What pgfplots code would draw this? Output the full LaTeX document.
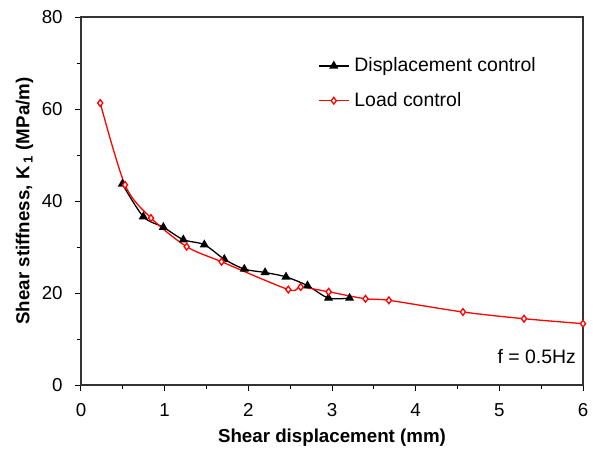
\documentclass[border=0pt]{standalone}
\usepackage{pgfplots}
\pgfplotsset{compat=1.18}
\usepackage{fontspec}
\setmainfont{Liberation Sans}
\begin{document}
\fontsize{18.5}{22}\selectfont
\begin{tikzpicture}
\useasboundingbox (-81bp,-70bp) rectangle (512bp,385bp);
\begin{axis}[
  at={(0,0)}, anchor=south west,
  scale only axis, width=502bp, height=368bp,
  xmin=0, xmax=6, ymin=0, ymax=80,
  xtick={0,1,2,3,4,5,6}, ytick={0,20,40,60,80},
  minor xtick={0.5,1.5,2.5,3.5,4.5,5.5},
  minor ytick={10,30,50,70},
  tick align=outside, xtick pos=left, ytick pos=left,
  major tick length=6bp, minor tick length=4bp,
  axis line style={line width=1.2bp, black!80},
  every tick/.style={line width=1bp, black},
  /pgf/number format/assume math mode=true,
  ticklabel style={font=\fontsize{18.8}{22}\selectfont},
  xticklabel style={yshift=-6bp},
  yticklabel style={xshift=-6bp},
  xlabel={\textbf{Shear displacement (mm)}},
  ylabel={\textbf{Shear stiffness, K\,\textsubscript{1} (MPa/m)}},
  label style={font=\fontsize{18.8}{22}\selectfont},
  xlabel style={yshift=0bp},
  ylabel style={yshift=-4bp},
  legend style={draw=none, fill=none, at={(0.472,0.896)}, anchor=north west,
    font=\fontsize{19.5}{23}\selectfont, row sep=14bp, inner sep=0pt,
    /tikz/every odd column/.append style={column sep=3bp}},
  legend cell align=left,
  legend image code/.code={\draw[mark repeat=2,mark phase=2,#1] plot coordinates {(0bp,0bp)(15bp,0bp)(30bp,0bp)};},
]
\addplot[black, line width=1.3bp, smooth, tension=0.5, mark=triangle*, mark size=4bp, mark options={solid, fill=black}]
coordinates {
(0.494,43.7)(0.745,36.6)(0.984,34.3)(1.223,31.6)(1.474,30.5)(1.713,27.35)
(1.952,25.2)(2.20,24.46)(2.45,23.5)(2.707,21.6)(2.958,18.9)(3.21,18.9)
};
\addlegendentry{Displacement control}
\addplot[red, line width=1.3bp, smooth, tension=0.5, mark=diamond*, mark size=3.4bp, mark options={solid, fill=white, line width=1.3bp}]
coordinates {
(0.23,61.3)(0.526,43.5)(0.837,36.3)(1.263,30.07)(1.68,26.8)(2.478,20.76)
(2.626,21.3)(2.96,20.26)(3.40,18.74)(3.68,18.41)(4.565,15.87)(5.295,14.41)(6.0,13.33)
};
\addlegendentry{Load control}
\node[anchor=east, font=\fontsize{19.5}{23}\selectfont] at (axis cs:5.99,6.1) {f = 0.5Hz};
\end{axis}
\end{tikzpicture}
\end{document}
